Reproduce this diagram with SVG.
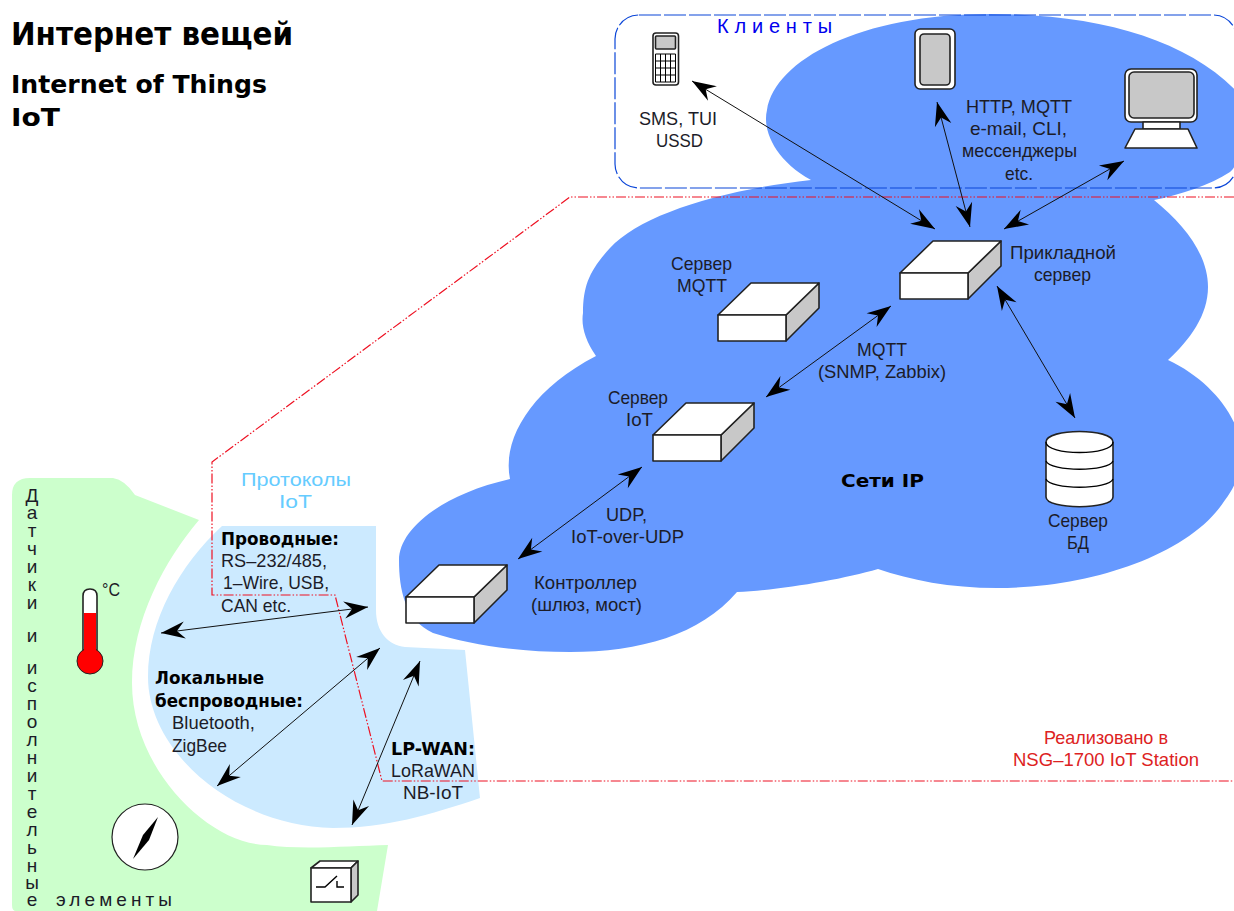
<svg xmlns="http://www.w3.org/2000/svg" width="1234" height="911" viewBox="0 0 1234 911">
<style>
text{font-family:"Liberation Sans","DejaVu Sans",sans-serif;font-size:19px;fill:#1c1c28}
.b{font-family:"DejaVu Sans",sans-serif;font-weight:bold;font-size:18px;fill:#000}
.ln{stroke:#000;stroke-width:1;fill:none}
.o{stroke:#222;stroke-width:1.6;stroke-linejoin:round}
.w{fill:#fff}.g{fill:#c8c8c8}
.arr{fill:none;stroke:#111;stroke-width:1;marker-start:url(#a);marker-end:url(#a)}
.red{fill:none;stroke:#ee1122;stroke-width:1.2;stroke-dasharray:10 2 1.500 2 1.500 2}
</style>
<defs>
<marker id="a" markerUnits="userSpaceOnUse" markerWidth="26" markerHeight="20" viewBox="0 0 26 20" refX="25" refY="10" orient="auto-start-reverse"><path d="M25,10 L1,1.500 L9,10 L1,18.500 Z" fill="#000"/></marker>
<g id="box"><path class="o g" d="M68,32 L101,0 V25 L68,58 Z"/><path class="o w" d="M0,32 L33,0 H101 L68,32 Z"/><rect class="o w" x="0" y="32" width="68" height="26"/></g>
</defs>
<rect width="1234" height="911" fill="#fff"/>
<path id="cloud" fill="#6699ff" d="M811,180 C775,160 762,130 767,110 C775,60 860,14 990,14 C1100,14 1190,40 1240,95 C1245,130 1240,165 1230,172 C1210,185 1180,195 1154,200 C1185,225 1208,255 1208,287 C1208,315 1190,340 1168,360 C1200,375 1225,400 1236,427 C1245,460 1240,480 1225,500 C1190,555 1090,588 997,588 C950,588 910,580 878,569 C840,580 780,590 737,592 C700,635 640,652 570,652 C520,652 470,645 433,633 C405,620 399,590 399,560 C399,530 440,495 510,479 C502,440 530,390 596,356 C585,340 581,325 583,313 C583,285 590,270 610,248 C640,215 720,190 811,180 Z"/>
<path id="sensors-zone" fill="#ccffcc" d="M12,905 V495 Q12,478 30,478 H113 Q125,480 135,495 L199,520 C165,560 132,620 132,683 C132,770 210,845 267,845 C300,850 350,846 388,845 L377,911 H16 Q12,911 12,905 Z"/>
<path id="protocols-zone" fill="#cceaff" d="M222,526 H376 V610 C376,632 388,645 405,647 L465,650 L480,798 C430,815 385,828 333,828 C230,825 148,750 148,677 C148,620 180,565 222,526 Z"/>
<g id="clients"><rect x="615" y="15" width="622" height="173" rx="24" fill="none" stroke="#0b46d8" stroke-width="1.2" stroke-dasharray="22 3"/>
<text x="717" y="33" style="fill:#0000ee;font-size:20px" textLength="115" lengthAdjust="spacing">Клиенты</text></g>
<g id="connectors">
<path class="red" d="M1234,197 H570 L212,462 V595 H335 L382,781 H1234"/>
<path class="arr" d="M161,633 L368,607"/>
<path class="arr" d="M217,786 L380,648"/>
<path class="arr" d="M352,825 L420,661"/>
<path class="arr" d="M518,559 L642,467"/>
<path class="arr" d="M766,397 L891,306"/>
<path class="arr" d="M997,286 L1075,418"/>
<path class="arr" d="M692,81 L935,229"/>
<path class="arr" d="M937,102 L970,227"/>
<path class="arr" d="M1124,161 L1004,229"/>
</g>
<g id="phone"><rect class="o w" x="653" y="33" width="25.500" height="52" rx="3"/><rect class="o g" x="655.500" y="36" width="20" height="13" rx="1"/><path class="ln" d="M655.500,54 H675.500 V82 H655.500 Z M655.500,61 H675.500 M655.500,68 H675.500 M655.500,75 H675.500 M660.500,54 V82 M665.500,54 V82 M670.500,54 V82"/></g>
<g id="tablet"><rect class="o w" x="915" y="29" width="40" height="60" rx="5"/><rect class="o g" x="920" y="34" width="30" height="51" rx="4"/></g>
<g id="computer"><rect class="o w" x="1125" y="69" width="72" height="53" rx="6"/><rect class="o g" x="1129" y="72" width="65" height="46" rx="5"/><rect class="o w" x="1143" y="122" width="37" height="7"/><path class="o w" d="M1135,129 H1188 L1197,148 H1125 Z"/></g>
<use id="app-server" href="#box" x="900" y="241"/>
<use id="mqtt-server" href="#box" x="718" y="283"/>
<use id="iot-server" href="#box" x="653" y="403"/>
<use id="controller" href="#box" x="406" y="565"/>
<g id="db"><path class="o w" d="M1046,442 C1046,428 1113,428 1113,442 V497 C1113,510 1046,510 1046,497 Z"/><path class="ln" style="stroke-width:1.3" d="M1046,442 C1046,456 1113,456 1113,442 M1046,461 C1050,472 1109,472 1113,461 M1046,479 C1050,490 1109,490 1113,479"/></g>
<g id="thermometer"><path class="o w" d="M83,650 V596 Q83,589 90,589 Q97,589 97,596 V650 Z"/><circle cx="90" cy="661" r="13" fill="#f00" stroke="#222" stroke-width="1"/><path d="M84,613 H96 V655 H84 Z" fill="#f00"/><text x="102" y="596" textLength="18" lengthAdjust="spacingAndGlyphs">°C</text></g>
<g id="compass"><circle cx="145" cy="837" r="33" fill="#fff" stroke="#222" stroke-width="1.2"/><path d="M158,817 L149,840 L133,859 L143,835 Z" fill="#000"/></g>
<g id="relay"><path class="o w" d="M311,868 L320,861 H358 L351,868 Z"/><path class="o g" d="M351,868 L358,861 V895 L351,902 Z"/><rect class="o w" x="311" y="868" width="40" height="34"/><path class="ln" style="stroke-width:1.4" d="M316,887 H325 L337,876 M337,881 V887 H344"/></g>
<g id="labels">
<text class="b" x="11" y="45" style="font-size:31.500px" textLength="282" lengthAdjust="spacingAndGlyphs">Интернет вещей</text>
<text class="b" x="11" y="93" style="font-size:25.500px" textLength="256" lengthAdjust="spacingAndGlyphs">Internet of Things</text>
<text class="b" x="11" y="126" style="font-size:25.500px" textLength="49" lengthAdjust="spacingAndGlyphs">IoT</text>
<text x="639" y="125" textLength="78" lengthAdjust="spacingAndGlyphs">SMS, TUI</text>
<text x="656" y="147" textLength="47" lengthAdjust="spacingAndGlyphs">USSD</text>
<text x="966" y="113" textLength="106" lengthAdjust="spacingAndGlyphs">HTTP, MQTT</text>
<text x="970" y="135" textLength="97" lengthAdjust="spacingAndGlyphs">e-mail, CLI,</text>
<text x="962" y="157" textLength="115" lengthAdjust="spacingAndGlyphs">мессенджеры</text>
<text x="1005" y="180" textLength="28" lengthAdjust="spacingAndGlyphs">etc.</text>
<text x="1010" y="259" textLength="106" lengthAdjust="spacingAndGlyphs">Прикладной</text>
<text x="1034" y="281" textLength="57" lengthAdjust="spacingAndGlyphs">сервер</text>
<text x="671" y="270" textLength="61" lengthAdjust="spacingAndGlyphs">Сервер</text>
<text x="677" y="292" textLength="50" lengthAdjust="spacingAndGlyphs">MQTT</text>
<text x="857" y="356" textLength="50" lengthAdjust="spacingAndGlyphs">MQTT</text>
<text x="818" y="378" textLength="128" lengthAdjust="spacingAndGlyphs">(SNMP, Zabbix)</text>
<text x="608" y="404" textLength="60" lengthAdjust="spacingAndGlyphs">Сервер</text>
<text x="626" y="426" textLength="27" lengthAdjust="spacingAndGlyphs">IoT</text>
<text x="606" y="521" textLength="41" lengthAdjust="spacingAndGlyphs">UDP,</text>
<text x="571" y="543" textLength="113" lengthAdjust="spacingAndGlyphs">IoT-over-UDP</text>
<text x="534" y="589" textLength="103" lengthAdjust="spacingAndGlyphs">Контроллер</text>
<text x="531" y="611" textLength="111" lengthAdjust="spacingAndGlyphs">(шлюз, мост)</text>
<text class="b" x="841" y="487" textLength="83" lengthAdjust="spacingAndGlyphs">Сети IP</text>
<text x="1048" y="527" textLength="60" lengthAdjust="spacingAndGlyphs">Сервер</text>
<text x="1067" y="549" textLength="22" lengthAdjust="spacingAndGlyphs">БД</text>
<text x="1044" y="744" style="fill:#dd2222" textLength="124" lengthAdjust="spacingAndGlyphs">Реализовано в</text>
<text x="1013" y="766" style="fill:#dd2222" textLength="186" lengthAdjust="spacingAndGlyphs">NSG–1700 IoT Station</text>
<text x="241" y="486" style="fill:#66ccff" textLength="110" lengthAdjust="spacingAndGlyphs">Протоколы</text>
<text x="279" y="508" style="fill:#66ccff" textLength="33" lengthAdjust="spacingAndGlyphs">IoT</text>
<text class="b" x="221" y="545" textLength="118" lengthAdjust="spacingAndGlyphs">Проводные:</text>
<text x="221" y="567" textLength="106" lengthAdjust="spacingAndGlyphs">RS–232/485,</text>
<text x="223" y="589" textLength="106" lengthAdjust="spacingAndGlyphs">1–Wire, USB,</text>
<text x="221" y="612" textLength="70" lengthAdjust="spacingAndGlyphs">CAN etc.</text>
<text class="b" x="155" y="684" textLength="109" lengthAdjust="spacingAndGlyphs">Локальные</text>
<text class="b" x="155" y="707" textLength="148" lengthAdjust="spacingAndGlyphs">беспроводные:</text>
<text x="172" y="729" textLength="83" lengthAdjust="spacingAndGlyphs">Bluetooth,</text>
<text x="172" y="752" textLength="55" lengthAdjust="spacingAndGlyphs">ZigBee</text>
<text class="b" x="391" y="755" textLength="84" lengthAdjust="spacingAndGlyphs">LP-WAN:</text>
<text x="391" y="777" textLength="84" lengthAdjust="spacingAndGlyphs">LoRaWAN</text>
<text x="403" y="799" textLength="60" lengthAdjust="spacingAndGlyphs">NB-IoT</text>
<text text-anchor="middle" style="font-size:19px" x="32 32 32 32 32 32 32 32 32 32 32 32 32 32 32 32 32 32 32 32 32 32 32 32" y="502 519 537 555 573 591 609 627 642 660 674 692 710 728 746 764 782 800 818 836 854 872 889 906">Датчики и исполнительные</text>
<text x="56" y="906" style="font-size:19px" textLength="116" lengthAdjust="spacing">элементы</text>
</g>
</svg>
